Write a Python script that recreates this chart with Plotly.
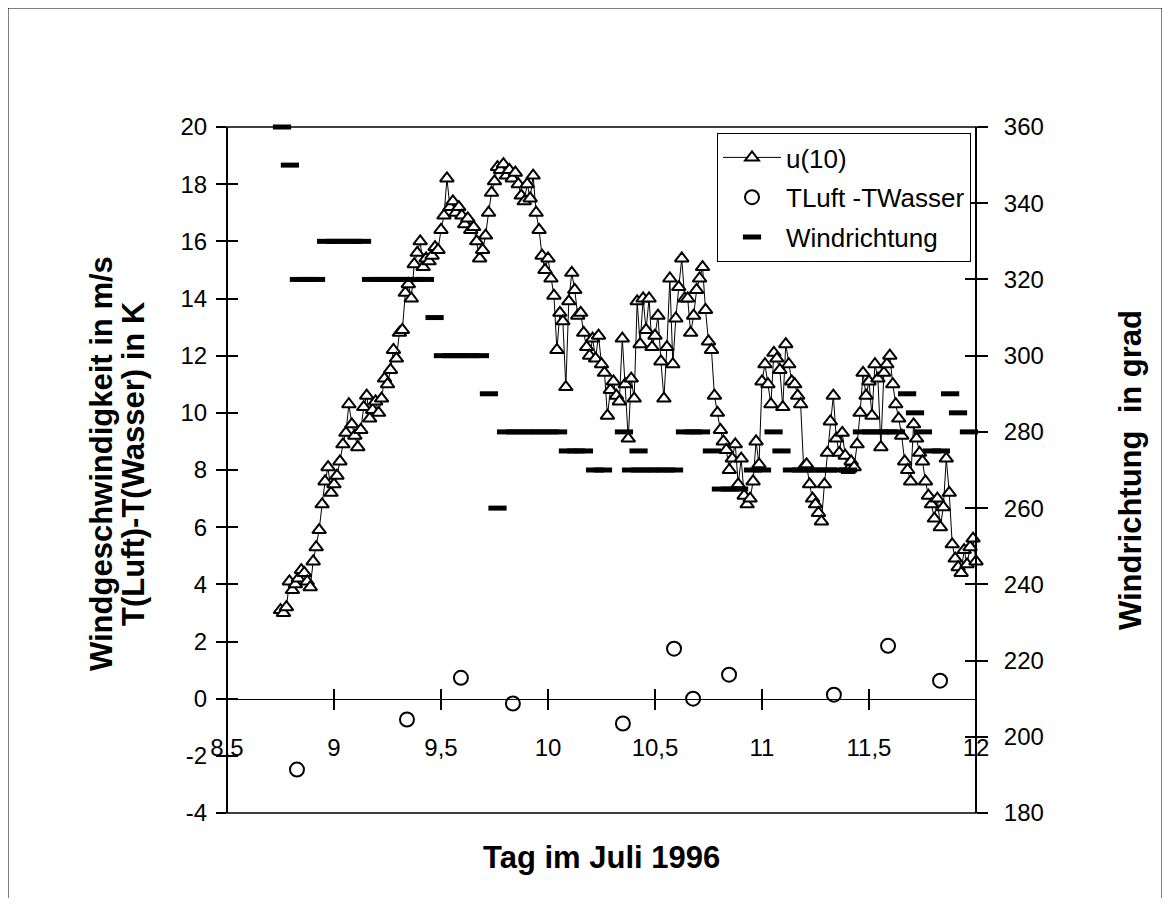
import plotly.graph_objects as go

# ---------------- data ----------------
# u(10) wind speed, sampled every 20 minutes starting at day 8.75
u10_start_day = 8.75
u10_step_minutes = 20
u10 = [
    3.1, 3.0, 3.2, 4.1, 3.8, 4.0, 4.2, 4.5, 4.4, 4.1,
    3.9, 4.8, 5.3, 5.9, 6.8, 7.6, 8.1, 7.2, 7.5, 7.8,
    8.3, 8.9, 9.3, 10.3, 9.6, 9.2, 8.8, 9.4, 10.2, 10.6,
    9.8, 10.1, 10.4, 10.0, 10.5, 11.2, 11.0, 11.5, 12.2, 11.9,
    12.8, 12.9, 14.2, 14.5, 14.0, 15.2, 15.6, 16.0, 15.1, 15.4,
    15.3, 15.5, 15.8, 15.7, 16.4, 16.9, 18.2, 17.2, 17.4, 17.0,
    17.2, 16.9, 16.6, 16.8, 16.4, 16.5, 16.0, 15.4, 15.7, 16.2,
    17.0, 17.7, 18.1, 18.6, 18.5, 18.7, 18.3, 18.5, 18.2, 18.4,
    18.0, 17.6, 17.4, 18.0, 17.5, 18.3, 17.0, 16.4, 15.5, 15.0,
    15.4, 14.7, 14.1, 12.2, 13.5, 13.2, 10.9, 13.9, 14.9, 14.3,
    13.4, 13.5, 12.8, 12.3, 12.0, 12.6, 11.9, 12.7, 11.7, 11.4,
    9.9, 10.8, 11.1, 10.6, 10.4, 12.6, 11.0, 9.1, 11.2, 10.5,
    13.9, 12.4, 14.0, 12.9, 14.0, 12.3, 12.7, 13.4, 11.8, 10.5,
    12.3, 14.7, 11.7, 13.3, 14.4, 15.4, 14.0, 14.0, 12.8, 13.4,
    14.3, 14.7, 15.1, 13.6, 12.5, 12.2, 10.6, 10.0, 9.4, 9.0,
    8.7, 8.0, 8.4, 8.9, 7.5, 8.4, 7.1, 6.8, 7.0, 7.6,
    9.0, 8.2, 11.1, 11.7, 11.0, 10.3, 12.1, 11.9, 11.5, 10.2,
    12.4, 11.7, 11.1, 11.0, 10.6, 10.3, 8.1, 8.2, 7.5, 7.0,
    6.8, 6.5, 6.2, 7.5, 8.6, 9.7, 10.6, 9.1, 8.6, 9.3,
    8.5, 8.0, 8.3, 8.1, 8.9, 10.0, 11.4, 10.6, 11.1, 9.9,
    11.7, 11.2, 8.8, 11.4, 11.7, 12.0, 11.0, 10.3, 9.8, 9.2,
    8.3, 8.0, 7.6, 9.6, 9.1, 8.6, 8.3, 7.6, 7.1, 6.8,
    6.3, 7.0, 6.0, 6.7, 8.4, 7.2, 5.4, 4.9, 4.6, 4.4,
    5.2, 4.7, 5.3, 5.6, 4.8,
]
u10_day = [u10_start_day + i * u10_step_minutes / 1440.0 for i in range(len(u10))]

# TLuft - TWasser (K)
dT_day = [8.827, 9.341, 9.593, 9.836, 10.350, 10.589, 10.678, 10.846, 11.336, 11.589, 11.832]
dT_val = [-2.48, -0.73, 0.73, -0.17, -0.87, 1.75, 0.0, 0.84, 0.14, 1.85, 0.63]

# Windrichtung (grad)
wr_day = [
    8.757, 8.794, 8.836, 8.879, 8.916,
    8.963, 9.005, 9.047, 9.089, 9.131,
    9.173, 9.215, 9.257, 9.299, 9.341, 9.383, 9.425,
    9.470,
    9.509, 9.551, 9.593, 9.636, 9.682,
    9.724, 9.764,
    9.804, 9.846, 9.888, 9.930, 9.967, 10.009, 10.047,
    10.093, 10.131, 10.168,
    10.220, 10.257,
    10.355, 10.423,
    10.388, 10.430, 10.472, 10.509, 10.551, 10.589,
    10.640, 10.678, 10.715,
    10.766,
    10.808, 10.850, 10.893,
    10.958, 11.000,
    11.054, 11.091,
    11.140, 11.182, 11.224, 11.266, 11.308, 11.350, 11.402,
    11.467, 11.509, 11.551, 11.589, 11.626,
    11.678, 11.715, 11.752,
    11.794, 11.836,
    11.879, 11.916,
    11.967, 12.009,
]
wr_deg = [
    360, 350, 320, 320, 320,
    330, 330, 330, 330, 330,
    320, 320, 320, 320, 320, 320, 320,
    310,
    300, 300, 300, 300, 300,
    290, 260,
    280, 280, 280, 280, 280, 280, 280,
    275, 275, 275,
    270, 270,
    280, 275,
    270, 270, 270, 270, 270, 270,
    280, 280, 280,
    275,
    265, 265, 265,
    270, 270,
    280, 275,
    270, 270, 270, 270, 270, 270, 270,
    280, 280, 280, 280, 280,
    290, 285, 280,
    275, 275,
    290, 285,
    280, 280,
]

x_tickvals = [8.5, 9, 9.5, 10, 10.5, 11, 11.5, 12]
x_ticktext = ["8,5", "9", "9,5", "10", "10,5", "11", "11,5", "12"]
yl_tickvals = [-4, -2, 0, 2, 4, 6, 8, 10, 12, 14, 16, 18, 20]
yl_ticktext = ["-4", "-2", "0", "2", "4", "6", "8", "10", "12", "14", "16", "18", "20"]
yr_tickvals = [180, 200, 220, 240, 260, 280, 300, 320, 340, 360]

# ---------------- figure ----------------
FONT = "Liberation Sans, Arial, sans-serif"
# page has an 8px body margin; plot area spans page x 227..976, y 127..813
W, H = 1154, 890
L, T = 219, 119
pw, ph = 749, 686
R, B = W - L - pw, H - T - ph

def px_x(px):
    return (px - 227) / pw

def px_y(py):
    return (813 - py) / ph

fig = go.Figure()

fig.add_trace(go.Scatter(
    x=u10_day, y=u10, mode="lines+markers", name="u(10)",
    line=dict(color="black", width=1),
    marker=dict(symbol="triangle-up", size=12, color="white",
                line=dict(color="black", width=2)),
    legendgroup="a", cliponaxis=False,
))
fig.add_trace(go.Scatter(
    x=dT_day, y=dT_val, mode="markers", name="TLuft -TWasser",
    marker=dict(symbol="circle-open", size=14, color="black",
                line=dict(color="black", width=2)),
    legendgroup="b", cliponaxis=False,
))
fig.add_trace(go.Scatter(
    x=wr_day, y=wr_deg, mode="markers", name="Windrichtung", yaxis="y2",
    marker=dict(symbol="line-ew", size=13, color="black",
                line=dict(color="black", width=5)),
    legendgroup="c", cliponaxis=False,
))
# helper (empty) traces so that tick-crossing overlay axes are drawn
fig.add_trace(go.Scatter(x=[], y=[], xaxis="x2", yaxis="y", showlegend=False, hoverinfo="skip"))
fig.add_trace(go.Scatter(x=[], y=[], xaxis="x", yaxis="y3", showlegend=False, hoverinfo="skip"))
fig.add_trace(go.Scatter(x=[], y=[], xaxis="x", yaxis="y4", showlegend=False, hoverinfo="skip"))

zero_pos = (0 - (-4)) / 24.0
tickfont = dict(family=FONT, size=24, color="black")
titlefont = dict(family=FONT, size=31, color="black")

fig.update_layout(
    width=W, height=H, autosize=False,
    margin=dict(l=L, r=R, t=T, b=B, pad=0),
    paper_bgcolor="white", plot_bgcolor="white",
    font=dict(family=FONT, color="black"),
    showlegend=True,
    legend=dict(
        x=px_x(717), y=px_y(133), xanchor="left", yanchor="top",
        bordercolor="black", borderwidth=1, bgcolor="white",
        font=dict(family=FONT, size=26, color="black"),
        itemwidth=58, tracegroupgap=3, traceorder="grouped",
    ),
    xaxis=dict(
        range=[8.5, 12], domain=[0, 1], anchor="free", position=zero_pos,
        showline=True, linecolor="black", linewidth=1,
        ticks="outside", ticklen=10, tickwidth=1.5, tickcolor="black",
        tickvals=x_tickvals, ticktext=x_ticktext, tickfont=tickfont,
        ticklabelstandoff=18,
        showgrid=False, zeroline=False,
    ),
    xaxis2=dict(
        range=[8.5, 12], domain=[0, 1], anchor="free", position=zero_pos,
        overlaying="x", showline=False,
        ticks="inside", ticklen=10, tickwidth=1.5, tickcolor="black",
        tickvals=x_tickvals, showticklabels=False,
        showgrid=False, zeroline=False,
    ),
    yaxis=dict(
        range=[-4, 20], anchor="free", position=0,
        showline=True, linecolor="black", linewidth=2,
        ticks="outside", ticklen=10, tickwidth=1.5, tickcolor="black",
        tickvals=yl_tickvals, ticktext=yl_ticktext, tickfont=tickfont,
        ticklabelstandoff=4,
        showgrid=False, zeroline=False,
    ),
    yaxis3=dict(
        range=[-4, 20], anchor="free", position=0, overlaying="y",
        showline=False, ticks="inside", ticklen=10, tickwidth=1.5, tickcolor="black",
        tickvals=yl_tickvals, showticklabels=False,
        showgrid=False, zeroline=False,
    ),
    yaxis2=dict(
        range=[180, 360], anchor="free", position=1, side="right", overlaying="y",
        showline=True, linecolor="black", linewidth=2,
        ticks="outside", ticklen=11, tickwidth=1.5, tickcolor="black",
        tickvals=yr_tickvals, tickfont=tickfont, ticklabelstandoff=11,
        showgrid=False, zeroline=False,
    ),
    yaxis4=dict(
        range=[180, 360], anchor="free", position=1, side="right", overlaying="y",
        showline=False, ticks="inside", ticklen=11, tickwidth=1.5, tickcolor="black",
        tickvals=yr_tickvals, showticklabels=False,
        showgrid=False, zeroline=False,
    ),
    shapes=[
        # plot-area frame (top and bottom edges)
        dict(type="rect", xref="paper", yref="paper", x0=0, x1=1, y0=0, y1=1,
             line=dict(color="black", width=1.5), layer="above"),
        # outer chart border
        dict(type="rect", xref="paper", yref="paper",
             x0=px_x(8), x1=px_x(1162), y0=px_y(930), y1=px_y(8),
             line=dict(color="black", width=1), layer="below"),
    ],
    annotations=[
        dict(text="<b>Tag im Juli 1996</b>", xref="paper", yref="paper",
             x=0.5, y=px_y(857), xanchor="center", yanchor="middle",
             showarrow=False, font=titlefont),
        dict(text="<b>Windgeschwindigkeit in m/s</b>",
             xref="paper", yref="paper", x=px_x(101), y=px_y(464),
             xanchor="center", yanchor="middle", textangle=-90, showarrow=False,
             font=titlefont),
        dict(text="<b>T(Luft)-T(Wasser) in K</b>",
             xref="paper", yref="paper", x=px_x(133), y=px_y(464),
             xanchor="center", yanchor="middle", textangle=-90, showarrow=False,
             font=titlefont),
        dict(text="<b>Windrichtung  in grad</b>", xref="paper", yref="paper",
             x=px_x(1130), y=px_y(470), xanchor="center", yanchor="middle",
             textangle=-90, showarrow=False, font=titlefont),
    ],
)

fig.write_html("out.html")
